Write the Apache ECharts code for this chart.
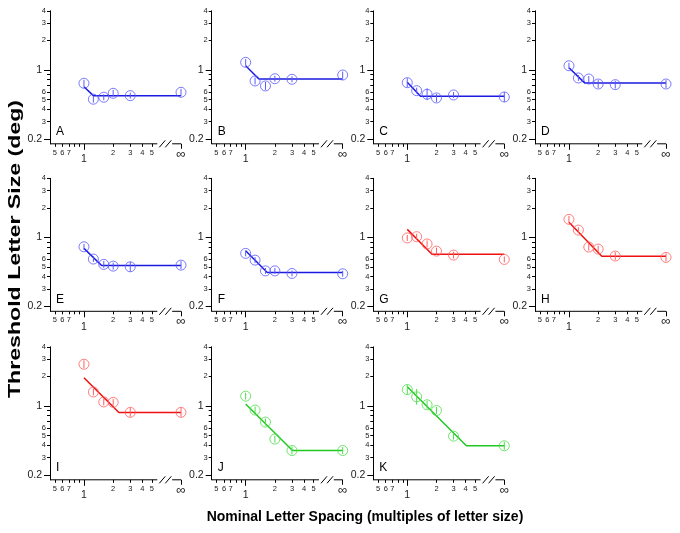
<!DOCTYPE html>
<html><head><meta charset="utf-8">
<script src="https://cdn.jsdelivr.net/npm/echarts@6/dist/echarts.min.js"></script>
<style>html,body{margin:0;padding:0;background:#fff}#c{width:680px;height:533px}</style>
</head><body><div id="c"></div>
<script>
// ---------------- data ----------------
const spacing = [1, 1.25, 1.6, 2, 3, Infinity];   // nominal letter spacing
const INF_AT = 10;                                 // axis position used for ∞
const panelNames = ['A','B','C','D','E','F','G','H','I','J','K'];
const panelGroup = ['blue','blue','blue','blue','blue','blue','red','red','red','green','green'];

const thrA = [0.733, 0.505, 0.529, 0.58, 0.549, 0.594];
const thrB = [1.197, 0.774, 0.689, 0.816, 0.805, 0.89];
const thrC = [0.744, 0.617, 0.567, 0.52, 0.558, 0.532];
const thrD = [1.105, 0.83, 0.81, 0.721, 0.71, 0.721];
const thrE = [0.805, 0.604, 0.533, 0.512, 0.504, 0.524];
const thrF = [0.69, 0.589, 0.458, 0.458, 0.431, 0.428];
const thrG = [0.99, 1.02, 0.86, 0.728, 0.663, 0.599];
const thrH = [1.53, 1.19, 0.80, 0.763, 0.648, 0.628];
const thrI = [2.66, 1.39, 1.10, 1.09, 0.862, 0.862];
const thrJ = [1.26, 0.91, 0.687, 0.461, 0.353, 0.353];
const thrK = [1.47, 1.24, 1.03, 0.90, 0.494, 0.394];

// error bar half-widths (log10 units)
const errA = [0.035,0.035,0.03,0.035,0.03,0.035];
const errB = [0.035,0.035,0.04,0.03,0.03,0.035];
const errC = [0.045,0.03,0.06,0.04,0.03,0.05];
const errD = [0.03,0.03,0.03,0.04,0.04,0.04];
const errE = [0.03,0.03,0.035,0.035,0.05,0.04];
const errF = [0.03,0.03,0.03,0.03,0.03,0.03];
const errG = [0.03,0.03,0.035,0.035,0.035,0.03];
const errH = [0.035,0.03,0.035,0.035,0.04,0.04];
const errI = [0.04,0.035,0.035,0.035,0.045,0.045];
const errJ = [0.035,0.035,0.035,0.035,0.04,0.035];
const errK = [0.05,0.08,0.04,0.035,0.035,0.04];

// fit: [threshold at spacing 1, critical spacing (knee), asymptotic threshold]
const fitA = [0.677, 1.25, 0.549];
const fitB = [1.105, 1.37, 0.81];
const fitC = [0.75, 1.37, 0.54];
const fitD = [1.055, 1.45, 0.74];
const fitE = [0.776, 1.52, 0.52];
const fitF = [0.733, 1.67, 0.44];
const fitG = [1.21, 1.8, 0.675];
const fitH = [1.43, 2.18, 0.645];
const fitI = [1.94, 2.29, 0.86];
const fitJ = [1.05, 3.04, 0.353];
const fitK = [1.57, 4.07, 0.394];

// tick values and labels
const yMajorTicks = [0.2, 1];
const yMajorLabels = ['0.2', '1'];
const yMinorTicks = [0.3, 0.4, 0.5, 0.6, 0.7, 0.8, 0.9, 2, 3, 4];
const yMinorLabels = ['3', '4', '5', '6', '', '', '', '2', '3', '4'];
const xMinorTicks = [0.5, 0.6, 0.7, 0.8, 0.9, 2, 3, 4, 5];
const xMinorLabels = ['5', '6', '7', '', '', '2', '3', '4', '5'];
const xOneTicks = [1];
const xOneLabels = ['1'];
const xInfTicks = [Infinity];
const xInfLabels = ['\u221E'];

const yTitle = 'Threshold Letter Size (deg)';
const xTitle = 'Nominal Letter Spacing (multiples of letter size)';

// ---------------- build ----------------
const thr = [thrA,thrB,thrC,thrD,thrE,thrF,thrG,thrH,thrI,thrJ,thrK];
const err = [errA,errB,errC,errD,errE,errF,errG,errH,errI,errJ,errK];
const fit = [fitA,fitB,fitC,fitD,fitE,fitF,fitG,fitH,fitI,fitJ,fitK];
const palette = {
  blue:  {line: '#1a1ae0', mark: '#5a5aff'},
  red:   {line: '#f01010', mark: '#ff5f5f'},
  green: {line: '#22c822', mark: '#4ddd4d'}
};
const FONT = 'Liberation Sans, Arial, sans-serif';
const lx = s => Math.log10(s === Infinity ? INF_AT : s);
const ly = v => Math.log10(v);
const X_MIN = -0.35, X_MAX = 1;
const Y_MIN = -0.75, Y_MAX = Math.log10(4);

const gridLeft = [50, 211.7, 373.3, 535];
const gridTop = [10.8, 178.3, 346.8];
const GW = 131, GH = 133;

function fmt(ticks, labels, pos) {
  return function (v) {
    for (let i = 0; i < ticks.length; i++) if (Math.abs(pos(ticks[i]) - v) < 1e-6) return labels[i];
    return '';
  };
}

const grid = [], xAxis = [], yAxis = [], series = [], graphic = [];
const lblColor = '#222';

panelNames.forEach((name, g) => {
  const col = g % 4, row = Math.floor(g / 4);
  const left = gridLeft[col], top = gridTop[row];
  grid.push({left: left, top: top, width: GW, height: GH, containLabel: false});
  const xBase = {gridIndex: g, type: 'value', min: X_MIN, max: X_MAX, position: 'bottom',
    axisLine: {show: false, onZero: false}, splitLine: {show: false}};
  const yBase = {gridIndex: g, type: 'value', min: Y_MIN, max: Y_MAX, position: 'left',
    splitLine: {show: false}};
  const xi = xAxis.length, yi = yAxis.length;
  xAxis.push(Object.assign({}, xBase, {
    axisTick: {show: true, length: 3, customValues: xMinorTicks.map(lx), lineStyle: {color: '#000'}},
    axisLabel: {customValues: xMinorTicks.map(lx), formatter: fmt(xMinorTicks, xMinorLabels, lx),
      margin: 5, fontSize: 7.5, color: lblColor, fontFamily: FONT}
  }));
  xAxis.push(Object.assign({}, xBase, {
    axisTick: {show: true, length: 6, customValues: xOneTicks.map(lx), lineStyle: {color: '#000'}},
    axisLabel: {customValues: xOneTicks.map(lx), formatter: fmt(xOneTicks, xOneLabels, lx),
      margin: 10, fontSize: 10.5, color: lblColor, fontFamily: FONT}
  }));
  xAxis.push(Object.assign({}, xBase, {
    axisTick: {show: true, length: 5, customValues: xInfTicks.map(lx), lineStyle: {color: '#000'}},
    axisLabel: {customValues: xInfTicks.map(lx), formatter: fmt(xInfTicks, xInfLabels, lx),
      margin: 4, fontSize: 13, color: lblColor, fontFamily: FONT}
  }));
  yAxis.push(Object.assign({}, yBase, {
    axisLine: {show: true, onZero: false, lineStyle: {color: '#000', width: 1}},
    axisTick: {show: true, length: 6, customValues: yMajorTicks.map(ly), lineStyle: {color: '#000'}},
    axisLabel: {customValues: yMajorTicks.map(ly), formatter: fmt(yMajorTicks, yMajorLabels, ly),
      margin: 8, fontSize: 10.5, color: lblColor, fontFamily: FONT}
  }));
  yAxis.push(Object.assign({}, yBase, {
    axisLine: {show: false, onZero: false},
    axisTick: {show: true, length: 3, customValues: yMinorTicks.map(ly), lineStyle: {color: '#000'}},
    axisLabel: {customValues: yMinorTicks.map(ly), formatter: fmt(yMinorTicks, yMinorLabels, ly),
      margin: 4, fontSize: 7.5, color: lblColor, fontFamily: FONT}
  }));

  const c = palette[panelGroup[g]];
  const f = fit[g];
  series.push({
    type: 'custom', xAxisIndex: xi, yAxisIndex: yi, clip: false, silent: true,
    data: [[X_MIN, Y_MIN]],
    renderItem: function (params, api) {
      const p0 = api.coord([X_MIN, Y_MIN]);
      const pa = api.coord([Math.log10(5.7), Y_MIN]);
      const pb = api.coord([Math.log10(8.1), Y_MIN]);
      const p1 = api.coord([X_MAX, Y_MIN]);
      const y = p0[1];
      const st = {stroke: '#000', lineWidth: 1};
      return {type: 'group', children: [
        {type: 'line', shape: {x1: p0[0], y1: y, x2: pa[0], y2: y}, style: st},
        {type: 'line', shape: {x1: pb[0], y1: y, x2: p1[0], y2: y}, style: st},
        {type: 'line', shape: {x1: pa[0] + 2, y1: y + 3.5, x2: pa[0] + 8, y2: y - 3.5}, style: st},
        {type: 'line', shape: {x1: pa[0] + 8, y1: y + 3.5, x2: pa[0] + 14, y2: y - 3.5}, style: st}
      ]};
    }
  });
  series.push({
    type: 'line', xAxisIndex: xi, yAxisIndex: yi, showSymbol: false, silent: true,
    lineStyle: {color: c.line, width: 1.5}, z: 3,
    data: [[lx(1), ly(f[0])], [lx(f[1]), ly(f[2])], [lx(Infinity), ly(f[2])]]
  });
  series.push({
    type: 'custom', xAxisIndex: xi, yAxisIndex: yi, silent: true, z: 4,
    encode: {x: 0, y: [1, 2]},
    data: spacing.map((s, i) => [lx(s), ly(thr[g][i]) - err[g][i], ly(thr[g][i]) + err[g][i]]),
    renderItem: function (params, api) {
      const a = api.coord([api.value(0), api.value(1)]);
      const b = api.coord([api.value(0), api.value(2)]);
      return {type: 'line', shape: {x1: a[0], y1: a[1], x2: b[0], y2: b[1]},
        style: {stroke: c.mark, lineWidth: 1}};
    }
  });
  series.push({
    type: 'scatter', xAxisIndex: xi, yAxisIndex: yi, symbol: 'circle', symbolSize: 10, silent: true, z: 5,
    itemStyle: {color: 'rgba(0,0,0,0)', borderColor: c.mark, borderWidth: 1},
    data: spacing.map((s, i) => [lx(s), ly(thr[g][i])])
  });
  graphic.push({type: 'text', left: left + 6, top: top + GH - 18,
    style: {text: name, fontSize: 12, fontFamily: FONT, fill: '#000'}});
});

graphic.push({type: 'text', x: 15, y: 249, rotation: Math.PI / 2, scaleX: 1.36,
  style: {text: yTitle, fontSize: 17, fontWeight: 'bold', fontFamily: FONT, fill: '#000',
    align: 'center', verticalAlign: 'middle'}});
graphic.push({type: 'text', x: 365, y: 517,
  style: {text: xTitle, fontSize: 14, fontWeight: 'bold', fontFamily: FONT, fill: '#000',
    align: 'center', verticalAlign: 'middle'}});

const chart = echarts.init(document.getElementById('c'), null, {renderer: 'canvas'});
chart.setOption({animation: false, backgroundColor: '#fff', grid, xAxis, yAxis, series, graphic});
</script>
</body></html>
